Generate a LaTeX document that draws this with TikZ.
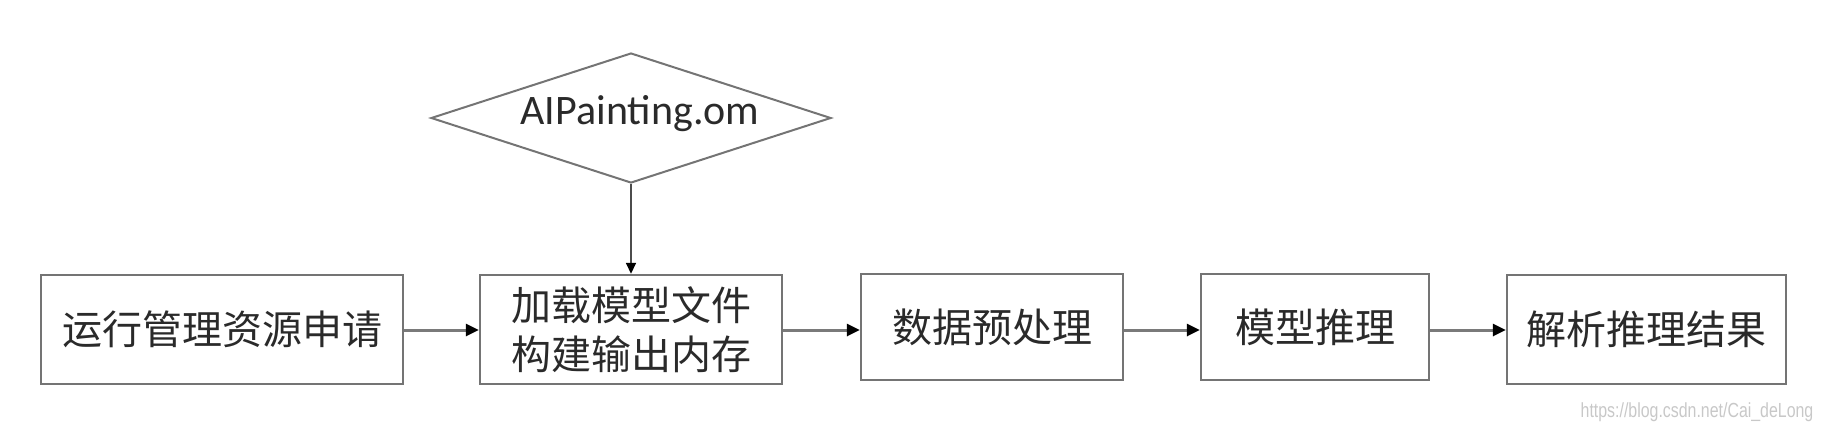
\documentclass[tikz,border=0pt]{standalone}
\usepackage{fontspec}
\usepackage{xcolor}
\usepackage{tikz}
\usetikzlibrary{shapes.geometric, arrows.meta}
\newfontfamily\cjkfont{Noto Sans CJK SC}
\newfontfamily\latinfont{Carlito}
\newfontfamily\markfont[FakeStretch=0.78]{Liberation Sans}
\definecolor{boxLine}{HTML}{747474}
\definecolor{flowLine}{HTML}{7A7A7A}
\definecolor{textColor}{HTML}{2A2A2A}
\definecolor{markColor}{HTML}{C8C8C8}

\begin{document}
\begin{tikzpicture}[x=0.5pt, y=-0.5pt,
    stepbox/.style={draw=boxLine, line width=1.2pt, inner sep=0pt, text=textColor,
        align=center, font=\cjkfont\fontsize{20}{24.5}\selectfont},
    modelfile/.style={diamond, draw=boxLine, line width=1pt, inner sep=0pt, aspect=3.08,
        minimum width=200pt, minimum height=65pt, text=textColor,
        font=\latinfont\fontsize{21}{24}\selectfont},
    flow/.style={draw=flowLine, line width=1.5pt, -{Triangle[length=6.5pt, width=6pt, color=black]}},
    feed/.style={draw=black!70, line width=0.8pt, -{Triangle[length=5.5pt, width=5pt, color=black]}}
]

    \useasboundingbox (0,0) rectangle (1822,430);

    \node[modelfile] (om) at (631,118) {\hspace*{9pt}AIPainting.om\raisebox{0pt}[0pt][8pt]{}};

    \node[stepbox, minimum width=181pt, minimum height=54.5pt] (resApply) at (222,329.5) {运行管理资源申请};
    \node[stepbox, minimum width=151pt, minimum height=54.5pt] (modelLoad) at (631,329.5)
        {加载模型文件\\构建输出内存};
    \node[stepbox, minimum width=131pt, minimum height=53pt] (dataPrep) at (992,327) {数据预处理};
    \node[stepbox, minimum width=114pt, minimum height=53pt] (modelInfer) at (1315,327) {模型推理};
    \node[stepbox, minimum width=139.5pt, minimum height=54.5pt] (resultParse) at (1646.5,329.5)
        {解析推理结果};

    \coordinate (flowY) at (0,330);
    \foreach \a/\b in {resApply/modelLoad, modelLoad/dataPrep, dataPrep/modelInfer, modelInfer/resultParse}
        \draw[flow] (\a.east |- flowY) -- (\b.west |- flowY);

    \draw[feed] (om.south) -- (modelLoad.north);

    \node[text=markColor, font=\markfont\fontsize{10.2}{12}\selectfont] (mark) at (1697,412)
        {https://blog.csdn.net/Cai\_deLong};
\end{tikzpicture}
\end{document}
